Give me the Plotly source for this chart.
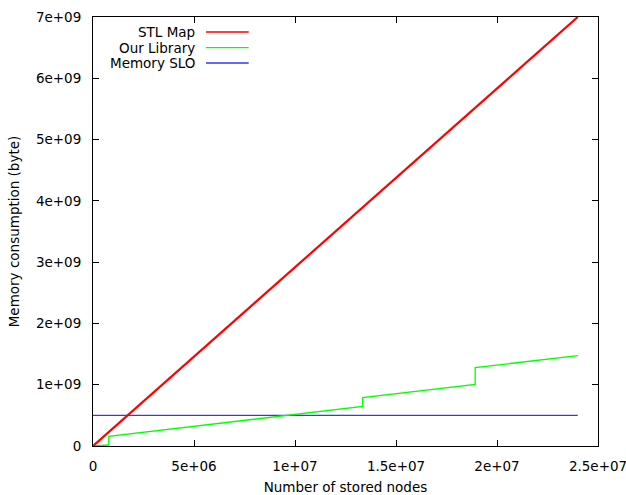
import plotly.graph_objects as go

# ---- data ----
series_names = ["STL Map", "Our Library", "Memory SLO"]
series_colors = ["#ff0000", "#00ff00", "#3535ff"]

stl_x = [0, 2.4e7]
stl_y = [0, 7.0e9]

lib_x = [0, 7.8e5, 7.8e5, 1.335e7, 1.335e7, 1.892e7, 1.892e7, 2.4e7]
lib_y = [0, 1.6e7, 1.58e8, 6.45e8, 7.9e8, 1.006e9, 1.279e9, 1.475e9]

slo_x = [0, 2.4e7]
slo_y = [5e8, 5e8]

x_tickvals = [0, 5e6, 1e7, 1.5e7, 2e7, 2.5e7]
x_ticktext = ["0", "5e+06", "1e+07", "1.5e+07", "2e+07", "2.5e+07"]
y_tickvals = [0, 1e9, 2e9, 3e9, 4e9, 5e9, 6e9, 7e9]
y_ticktext = ["0", "1e+09", "2e+09", "3e+09", "4e+09", "5e+09", "6e+09", "7e+09"]

FONT = "DejaVu Sans"
FS = 13.5

fig = go.Figure()
fig.add_trace(go.Scatter(x=slo_x, y=slo_y, mode="lines", name=series_names[2],
                         line=dict(color=series_colors[2], width=1.4), showlegend=False))
fig.add_trace(go.Scatter(x=lib_x, y=lib_y, mode="lines", name=series_names[1],
                         line=dict(color=series_colors[1], width=1.3), showlegend=False))
fig.add_trace(go.Scatter(x=stl_x, y=stl_y, mode="lines", name=series_names[0],
                         line=dict(color=series_colors[0], width=2.2), showlegend=False))

# gnuplot-style key: right-aligned text with line sample on its right
key_y = [0.965, 0.9287, 0.8928]
for name, color, ky in zip(series_names, series_colors, key_y):
    fig.add_annotation(x=0.206, y=ky, xref="paper", yref="paper", text=name,
                       showarrow=False, xanchor="right", yanchor="middle",
                       font=dict(family=FONT, size=FS, color="#000"))
    fig.add_shape(type="line", xref="paper", yref="paper", x0=0.2238, x1=0.3083,
                  y0=ky, y1=ky, line=dict(color=color, width=1.3))

axis_common = dict(showgrid=False, zeroline=False, showline=True, linecolor="#000",
                   linewidth=1, mirror="ticks", ticks="inside", ticklen=6,
                   tickcolor="#000", tickwidth=1, automargin=False,
                   ticklabeloverflow="allow",
                   tickfont=dict(family=FONT, size=FS, color="#000"))

fig.update_xaxes(range=[0, 2.5e7], tickmode="array", tickvals=x_tickvals,
                 ticktext=x_ticktext, ticklabelstandoff=8,
                 title=dict(text="Number of stored nodes", standoff=9,
                            font=dict(family=FONT, size=FS, color="#000")),
                 **axis_common)
fig.update_yaxes(range=[0, 7e9], tickmode="array", tickvals=y_tickvals,
                 ticktext=y_ticktext, ticklabelstandoff=8,
                 title=dict(text="Memory consumption (byte)", standoff=13,
                            font=dict(family=FONT, size=FS, color="#000")),
                 **axis_common)

fig.update_layout(width=626, height=495, margin=dict(l=93, r=28, t=17, b=49),
                  plot_bgcolor="white", paper_bgcolor="white",
                  font=dict(family=FONT, size=FS, color="#000"))

fig.write_html("out.html", config={"displayModeBar": False},
               post_script="document.body.style.margin='0';document.body.style.overflow='hidden';")
